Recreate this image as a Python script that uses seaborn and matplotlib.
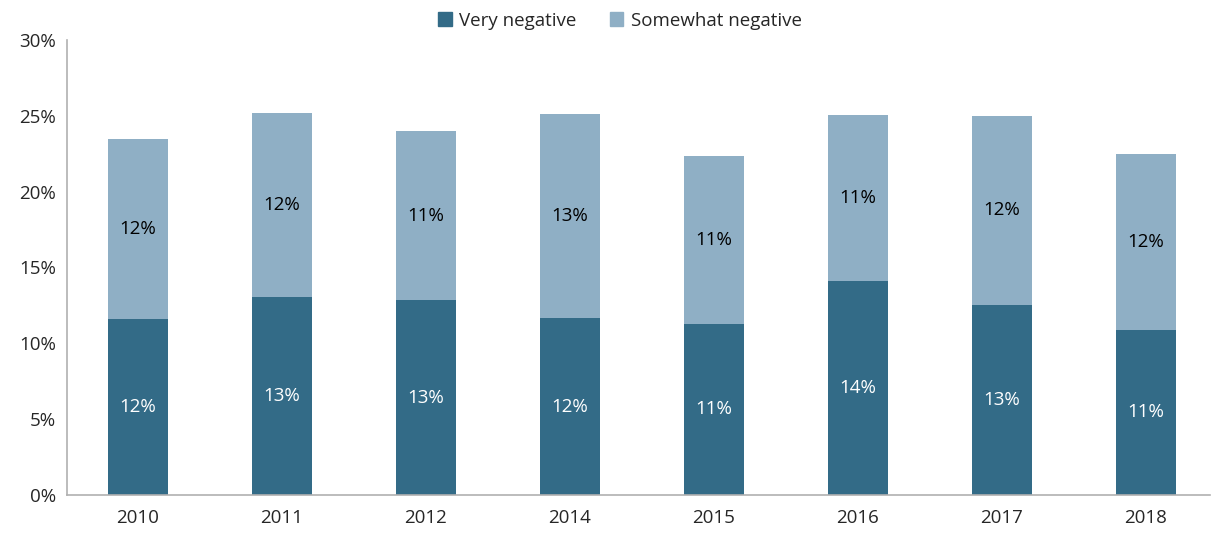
import seaborn as sns
import pandas as pd
import matplotlib.pyplot as plt

years = ["2010", "2011", "2012", "2014", "2015", "2016", "2017", "2018"]
very_negative = [11.6, 13.05, 12.85, 11.65, 11.3, 14.1, 12.55, 10.9]
somewhat_negative = [11.85, 12.15, 11.15, 13.45, 11.05, 10.95, 12.45, 11.6]

dark = "#336b87"
light = "#8fafc5"

df = pd.DataFrame({"year": years, "very": very_negative, "somewhat": somewhat_negative})
df["total"] = df["very"] + df["somewhat"]

sns.set_style("white")
plt.rcParams["font.family"] = ["Open Sans", "DejaVu Sans"]

fig = plt.figure(figsize=(12.16, 5.36), dpi=100)
ax = fig.add_axes([0.055, 0.0765, 0.94, 0.849])

sns.barplot(x="year", y="total", data=df, color=light, saturation=1, width=0.42, linewidth=0, ax=ax)
sns.barplot(x="year", y="very", data=df, color=dark, saturation=1, width=0.42, linewidth=0, ax=ax)

tops = ax.containers[0]
bottoms = ax.containers[1]
for bar_t, bar_b, v, s in zip(tops, bottoms, df["very"], df["somewhat"]):
    x = bar_b.get_x() + bar_b.get_width() / 2
    ax.text(x, v / 2, "{:.0f}%".format(v), ha="center", va="center", color="white", fontsize=13.5)
    ax.text(x, v + s / 2, "{:.0f}%".format(s), ha="center", va="center", color="black", fontsize=13.5)

ax.set_ylim(0, 30)
ax.set_xlim(-0.493, 7.444)
ax.set_yticks(range(0, 31, 5))
ax.set_yticklabels(["{}%".format(t) for t in range(0, 31, 5)], fontsize=13.5)
ax.tick_params(axis="x", labelsize=13.5, length=0, pad=10)
ax.tick_params(axis="y", length=0, pad=8)
ax.set_xlabel("")
ax.set_ylabel("")
for side in ["top", "right"]:
    ax.spines[side].set_visible(False)
for side in ["left", "bottom"]:
    ax.spines[side].set_color("#b0b0b0")
    ax.spines[side].set_linewidth(1.2)

handles = [plt.Rectangle((0, 0), 1, 1, color=dark), plt.Rectangle((0, 0), 1, 1, color=light)]
fig.legend(handles, ["Very negative", "Somewhat negative"], loc="upper center",
           bbox_to_anchor=(0.51, 1.01), ncol=2, frameon=False, fontsize=13.5,
           handlelength=0.7, handleheight=0.7, handletextpad=0.4, columnspacing=1.8)

fig.savefig("out.png", dpi=100)
